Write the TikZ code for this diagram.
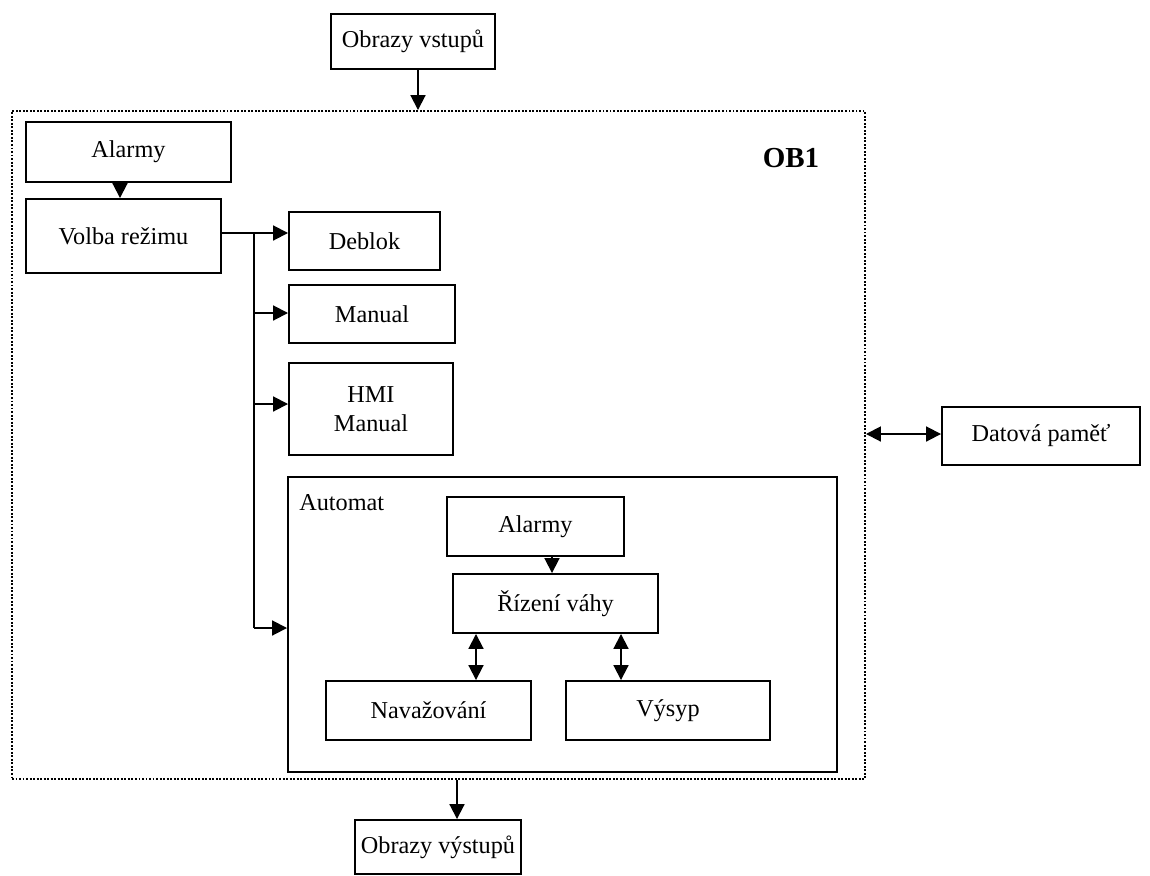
\documentclass[tikz,border=0pt]{standalone}
\usepackage{fontspec}
\setmainfont{Liberation Serif}
\usetikzlibrary{arrows.meta}
\begin{document}
\begin{tikzpicture}[x=0.02cm,y=-0.02cm,
  box/.style={draw,line width=1.1pt,inner sep=0pt,align=center,font=\fontsize{13.8}{16.5}\selectfont},
  frame/.style={draw,line width=1.1pt,dash pattern=on 1.1pt off 0.9pt},
  arr/.style={line width=1.1pt,-{Triangle[length=8.5pt,width=8.5pt]}},
  darr/.style={line width=1.1pt,{Triangle[length=8.5pt,width=8.5pt]}-{Triangle[length=8.5pt,width=8.5pt]}},
  ln/.style={line width=1.1pt}]
\useasboundingbox (0,0) rectangle (1150,876);
\node[box,minimum width=164*0.02cm,minimum height=55*0.02cm] (in) at (413,41.5) {Obrazy vstupů};
\node[frame,minimum width=853*0.02cm,minimum height=668*0.02cm,inner sep=0pt] (ob) at (438.5,445) {};
\node[font=\fontsize{16.5}{19}\selectfont\bfseries] (oblbl) at (791,158) {OB1};
\node[box,minimum width=205*0.02cm,minimum height=60*0.02cm] (al1) at (128.5,152) {Alarmy};
\node[box,minimum width=195*0.02cm,minimum height=74*0.02cm] (volba) at (123.5,236) {Volba režimu};
\node[box,minimum width=151*0.02cm,minimum height=58*0.02cm] (deb) at (364.5,241) {Deblok};
\node[box,minimum width=166*0.02cm,minimum height=58*0.02cm] (man) at (372,314) {Manual};
\node[box,minimum width=164*0.02cm,minimum height=92*0.02cm] (hmi) at (371,409) {HMI\\Manual};
\node[box,minimum width=549*0.02cm,minimum height=295*0.02cm] (aut) at (562.5,624.5) {};
\node[anchor=west,font=\fontsize{13.8}{16.5}\selectfont,inner sep=0pt] (autlbl) at (299,503) {Automat};
\node[box,minimum width=177*0.02cm,minimum height=59*0.02cm] (al2) at (535.5,526.5) {Alarmy};
\node[box,minimum width=205*0.02cm,minimum height=59*0.02cm] (riz) at (555.5,603.5) {Řízení váhy};
\node[box,minimum width=205*0.02cm,minimum height=59*0.02cm] (nav) at (428.5,710.5) {Navažování};
\node[box,minimum width=204*0.02cm,minimum height=59*0.02cm] (vys) at (668,710.5) {Výsyp};
\node[box,minimum width=198*0.02cm,minimum height=58*0.02cm] (dat) at (1041,436) {Datová paměť};
\node[box,minimum width=166*0.02cm,minimum height=54*0.02cm] (out) at (438,847) {Obrazy výstupů};
% connectors
\coordinate (j1) at (254,233);
\coordinate (j2) at (254,313);
\coordinate (j3) at (254,404);
\coordinate (j4) at (254,628);
\coordinate (ca) at (418,0);
\coordinate (cb) at (457,0);
\coordinate (cc) at (120,0);
\coordinate (cd) at (552,0);
\coordinate (ce) at (476,0);
\coordinate (cf) at (621,0);
\coordinate (cg) at (0,434);
\draw[arr] (in.south -| ca) -- (ob.north -| ca);
\draw[arr] (ob.south -| cb) -- (out.north -| cb);
\draw[arr] (al1.south -| cc) -- (volba.north -| cc);
\draw[ln] (volba.east |- j1) -- (j1) -- (j4);
\draw[arr] (j1) -- (deb.west |- j1);
\draw[arr] (j2) -- (man.west |- j2);
\draw[arr] (j3) -- (hmi.west |- j3);
\draw[arr] (j4) -- (aut.west |- j4);
\draw[arr] (al2.south -| cd) -- (riz.north -| cd);
\draw[darr] (riz.south -| ce) -- (nav.north -| ce);
\draw[darr] (riz.south -| cf) -- (vys.north -| cf);
\draw[darr] (ob.east |- cg) -- (dat.west |- cg);
\end{tikzpicture}
\end{document}
